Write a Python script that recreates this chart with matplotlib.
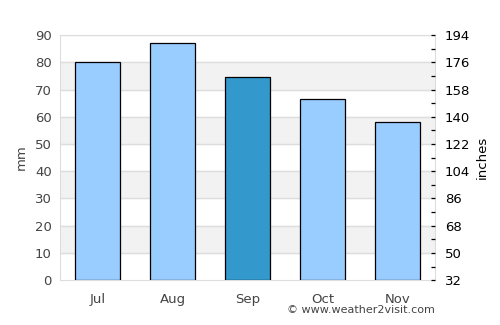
import matplotlib
matplotlib.use("Agg")
import matplotlib.pyplot as plt

months = ["Jul", "Aug", "Sep", "Oct", "Nov"]
rain_mm = [80, 87, 74.5, 66.7, 58]
highlight = "Sep"
left_ticks = [0, 10, 20, 30, 40, 50, 60, 70, 80, 90]
right_labels = ["32", "50", "68", "86", "104", "122", "140", "158", "176", "194"]

text_col = "#444444"
fig = plt.figure(figsize=(5, 3.25), dpi=100)
ax = fig.add_axes([0.12, 0.138, 0.75, 0.754])

# alternating background bands
for lo in range(10, 90, 20):
    ax.axhspan(lo, lo + 10, color="#f2f2f2", zorder=0)
for y in left_ticks[1:]:
    ax.axhline(y, color="#dddddd", lw=1, zorder=1)

colors = ["#3399cc" if m == highlight else "#99ccff" for m in months]
ax.bar(range(len(months)), rain_mm, width=0.6, color=colors,
       edgecolor="black", linewidth=0.9, zorder=3)

ax.set_xlim(-0.5, len(months) - 0.5)
ax.set_ylim(0, 90)
ax.set_xticks(range(len(months)))
ax.set_xticklabels(months)
ax.set_yticks(left_ticks)
ax.tick_params(axis="both", length=0, colors=text_col, labelsize=9.5, pad=6)
ax.tick_params(axis="x", pad=9)
ax.set_ylabel("mm", color=text_col, fontsize=9.5, labelpad=5)
for s in ax.spines.values():
    s.set_color("#dddddd")

ax2 = ax.twinx()
ax2.set_ylim(0, 90)
ax2.set_yticks(left_ticks)
ax2.set_yticklabels(right_labels)
ax2.set_yticks(range(5, 90, 10), minor=True)
ax2.tick_params(axis="y", which="both", direction="in", length=3, width=0.9,
                colors="black", labelcolor="black", labelsize=9.5, pad=7)
ax2.set_ylabel("inches", color="black", fontsize=9.5, labelpad=4)
for s in ax2.spines.values():
    s.set_visible(False)

fig.text(0.87, 0.03, "© www.weather2visit.com", ha="right", va="bottom",
         fontsize=8, color=text_col)

fig.savefig("out.png", dpi=100)
